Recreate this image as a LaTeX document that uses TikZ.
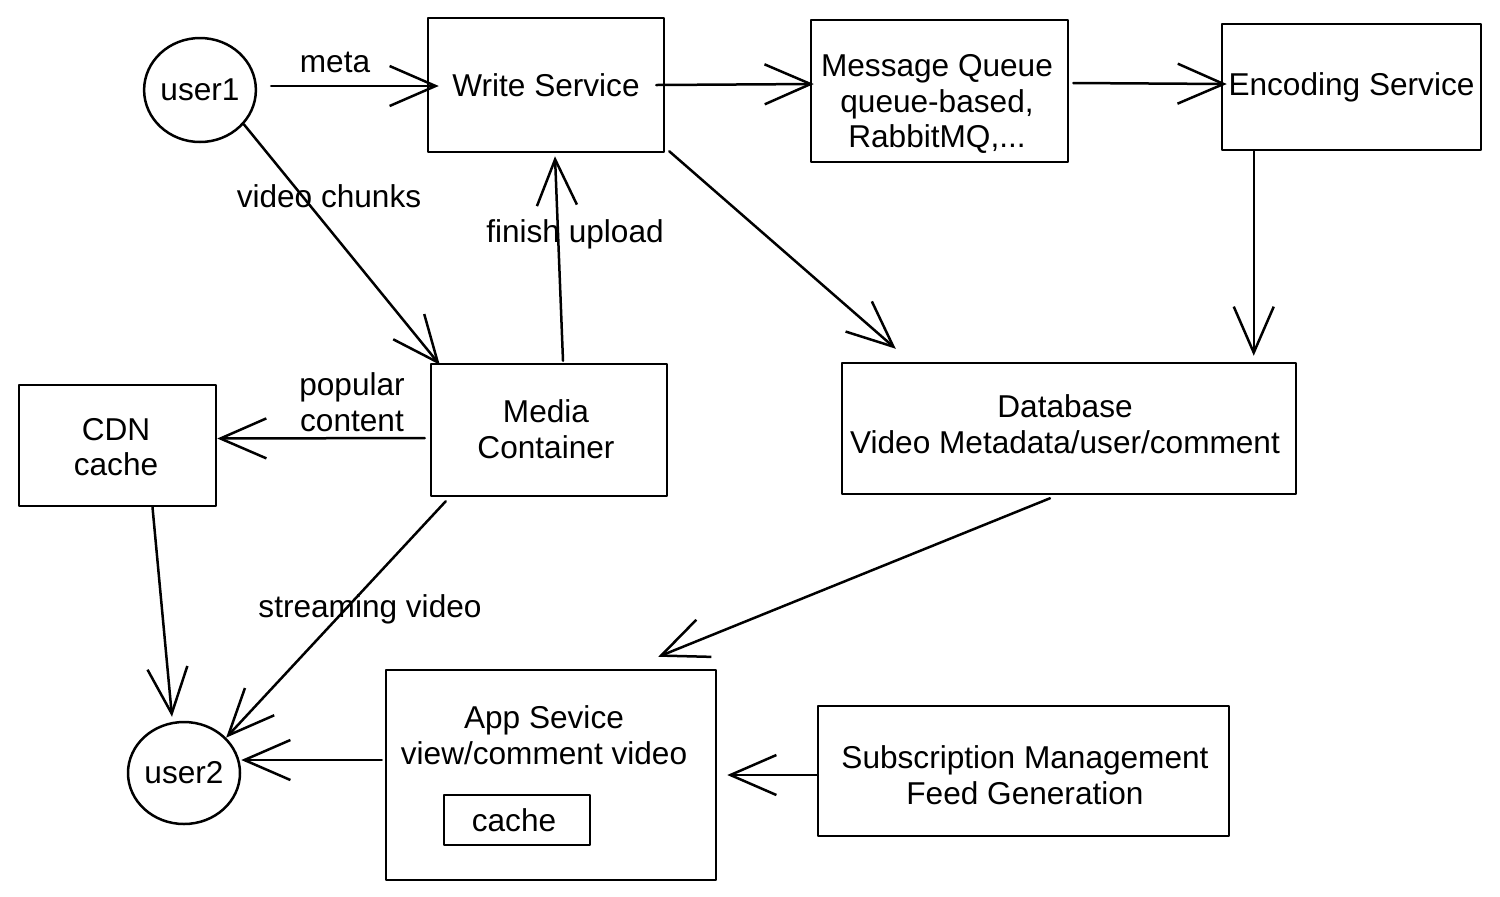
\documentclass[tikz,border=0pt]{standalone}
\usepackage{fontspec}
\setmainfont{Liberation Sans}
\usetikzlibrary{arrows.meta,calc,shapes.geometric}
\begin{document}
\begin{tikzpicture}[x=0.5pt,y=-0.5pt,
  every node/.style={font=\fontsize{15.8pt}{17.8pt}\selectfont, inner sep=1pt},
  box/.style={draw, line width=1.25pt, rectangle, align=center},
  usr/.style={draw, line width=1.25pt, ellipse, inner sep=0pt},
  lbl/.style={align=center, fill=none},
  arr/.style={line width=1.25pt, -{Straight Barb[length=23pt,width=20pt,line width=1.25pt]}},
  line join=round, line cap=round]
\useasboundingbox (0,0) rectangle (1500,896);

% nodes
\node[usr, minimum width=55pt, minimum height=52pt] (u1) at (200,90) {user1};
\node[box, minimum width=118pt, minimum height=67pt] (ws) at (546,85) {Write Service};
\node[box, minimum width=128.5pt, minimum height=71pt] (mq) at (939.5,91) {};
\node[lbl] (mqtxt) at (937,104) {Message Queue\\queue-based,\\RabbitMQ,...};
\node[box, minimum width=129.5pt, minimum height=63pt] (enc) at (1351.5,87) {Encoding Service};
\node[box, minimum width=118pt, minimum height=66pt] (mc) at (549,430) {};
\node[lbl] (mctxt) at (546,429) {Media\\Container};
\node[box, minimum width=98.5pt, minimum height=60.5pt] (cdn) at (117.5,445.5) {};
\node[lbl] (cdntxt) at (116,447) {CDN\\cache};
\node[box, minimum width=227pt, minimum height=65.5pt] (db) at (1069,428.5) {};
\node[lbl] (dbtxt) at (1065,424) {Database\\Video Metadata/user/comment};
\node[box, minimum width=165pt, minimum height=105pt] (app) at (551,775) {};
\node[lbl] (apptxt) at (544,735) {App Sevice\\view/comment video};
\node[box, minimum width=73pt, minimum height=25pt] (cache) at (517,820) {};
\node[lbl] (cachetxt) at (514,820) {cache};
\node[box, minimum width=205.5pt, minimum height=65pt] (sub) at (1023.5,771) {};
\node[lbl] (subtxt) at (1025,775) {Subscription Management\\Feed Generation};
\node[usr, minimum width=56pt, minimum height=51pt] (u2) at (184,773) {user2};

% labels
\node[lbl] (lmeta) at (335,62) {meta};
\node[lbl] (lchunks) at (329,196) {video chunks};
\node[lbl] (lfinish) at (575,234) {finish upload};
\node[lbl] (lpop) at (352,402) {popular\\content};
\node[lbl] (lstream) at (370,609) {streaming video};

% connectors
\draw[arr] ($(u1.east)+(14,-4)$) -- ($(ws.west)+(12,1)$);
\draw[arr] ($(ws.east)+(-9,0)$) -- ($(mq.west)+(4,-7)$);
\draw[arr] ($(mq.east)+(4,-8)$) -- ($(enc.west)+(6,-3)$);
\draw[arr] ($(enc.south west)+(33,0)$) -- ($(enc.south west |- db.north)+(33,-6)$);
\draw[arr] ($(ws.south east)+(4,-2)$) -- ($(db.north west)+(55,-13)$);
\draw[arr] (u1.-38) -- ($(mc.north west)+(10,2)$);
\draw[arr] ($(mc.north)+(14,-2)$) -- ($(ws.south)+(9,3)$);
\draw[arr] ($(mc.west)+(-5,8)$) -- ($(cdn.east)+(0,-7)$);
\draw[arr] ($(cdn.south)+(35,0)$) -- ($(u2.north)+(-12,-4)$);
\draw[arr] ($(mc.south west)+(16,4)$) -- (u2.40);
\draw[arr] ($(db.south)+(-19,3)$) -- ($(app.north east)+(-59,-12)$);
\draw[arr] ($(app.west)+(-3,-15)$) -- ($(u2.east)+(0,-13)$);
\draw[arr] ($(sub.west)+(0,4)$) -- ($(app.east)+(10,0)$);
\end{tikzpicture}
\end{document}
